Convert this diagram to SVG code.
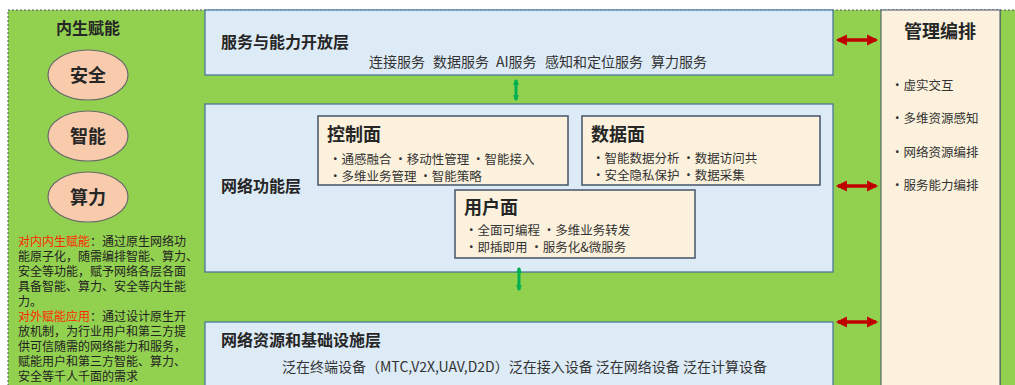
<svg xmlns="http://www.w3.org/2000/svg" width="1015" height="385" viewBox="0 0 1015 385">
<defs>
<style>
text{font-family:"Noto Sans CJK SC","Liberation Sans",sans-serif;fill:#262626}
.layer{fill:#DDEBF7;stroke:#41719C;stroke-width:1.2}
.plane{fill:#FBF1DC;stroke:#44546A;stroke-width:1.5}
.ell{fill:#F8CBAD;stroke:#6B6B6B;stroke-width:1.2}
.t1{font-size:16px;font-weight:bold}
.t2{font-size:18px;font-weight:bold}
.s{font-size:12.5px;fill:#333}
.sv{font-size:14px;fill:#333}
.l{font-size:12px;fill:#222}
.red{fill:#FF2A00}
.ra{stroke:#C00000;stroke-width:3.5;fill:none}
.ga{stroke:#00B050;stroke-width:3;fill:none}
</style>
<marker id="rh" viewBox="0 0 10 10" refX="8" refY="5" markerWidth="3.4" markerHeight="3.2" orient="auto-start-reverse"><path d="M0,0 L10,5 L0,10 z" fill="#C00000"/></marker>
<marker id="gh" viewBox="0 0 10 10" refX="8" refY="5" markerWidth="2" markerHeight="2" orient="auto-start-reverse"><path d="M0,0 L10,5 L0,10 z" fill="#00B050"/></marker>
</defs>
<rect x="0" y="0" width="1015" height="385" fill="#FFFFFF"/>
<rect x="8" y="10" width="1010" height="380" fill="#92D050" stroke="#44546A" stroke-width="1" stroke-dasharray="2,2"/>
<line x1="1000" y1="10" x2="1000" y2="385" stroke="#44546A" stroke-width="1"/>

<g id="innate">
<text x="88" y="34" class="t1" text-anchor="middle">内生赋能</text>
<ellipse class="ell" cx="88" cy="75" rx="40" ry="25"/>
<text x="88" y="82" class="t2" text-anchor="middle" font-size="20">安全</text>
<ellipse class="ell" cx="88" cy="136" rx="40" ry="25"/>
<text x="88" y="143" class="t2" text-anchor="middle" font-size="20">智能</text>
<ellipse class="ell" cx="88" cy="197" rx="40" ry="25"/>
<text x="88" y="204" class="t2" text-anchor="middle" font-size="20">算力</text>
<text class="l">
<tspan x="18" y="246"><tspan class="red">对内内生赋能</tspan>：通过原生网络功</tspan>
<tspan x="18" y="261">能原子化，随需编排智能、算力、</tspan>
<tspan x="18" y="276">安全等功能，赋予网络各层各面</tspan>
<tspan x="18" y="291">具备智能、算力、安全等内生能</tspan>
<tspan x="18" y="306">力。</tspan>
<tspan x="18" y="321"><tspan class="red">对外赋能应用</tspan>：通过设计原生开</tspan>
<tspan x="18" y="336">放机制，为行业用户和第三方提</tspan>
<tspan x="18" y="351">供可信随需的网络能力和服务，</tspan>
<tspan x="18" y="366">赋能用户和第三方智能、算力、</tspan>
<tspan x="18" y="381">安全等千人千面的需求</tspan>
</text>
</g>

<g id="service-layer">
<rect class="layer" x="205" y="10" width="628" height="65"/>
<text x="221" y="48" class="t1">服务与能力开放层</text>
<text y="67" class="sv"><tspan x="369">连接服务</tspan><tspan x="433">数据服务</tspan><tspan x="496">AI服务</tspan><tspan x="545">感知和定位服务</tspan><tspan x="651">算力服务</tspan></text>
</g>

<g id="function-layer">
<rect class="layer" x="205" y="104" width="628" height="168"/>
<text x="221" y="192" class="t1">网络功能层</text>
</g>

<g id="control-plane">
<rect class="plane" x="318" y="116" width="250" height="69"/>
<text x="327" y="141" class="t2">控制面</text>
<text x="329" y="164" class="s">·通感融合 ·移动性管理 ·智能接入</text>
<text x="329" y="181" class="s">·多维业务管理 ·智能策略</text>
</g>

<g id="data-plane">
<rect class="plane" x="582" y="116" width="238" height="69"/>
<text x="591" y="141" class="t2">数据面</text>
<text x="592" y="163" class="s">·智能数据分析 ·数据访问共</text>
<text x="592" y="180" class="s">·安全隐私保护 ·数据采集</text>
</g>

<g id="user-plane">
<rect class="plane" x="455" y="190" width="240" height="68"/>
<text x="464" y="214" class="t2">用户面</text>
<text x="465" y="235" class="s">·全面可编程 ·多维业务转发</text>
<text x="465" y="252" class="s">·即插即用 ·服务化&amp;微服务</text>
</g>

<g id="infra-layer">
<rect class="layer" x="205" y="322" width="628" height="70"/>
<text x="221" y="346" class="t1">网络资源和基础设施层</text>
<text x="282" y="372" class="sv">泛在终端设备（MTC,V2X,UAV,D2D）泛在接入设备 泛在网络设备 泛在计算设备</text>
</g>

<g id="management">
<rect x="881" y="10" width="119" height="380" fill="#FBF1DC" stroke="#44546A" stroke-width="1"/>
<text x="940" y="38" class="t2" text-anchor="middle">管理编排</text>
<text x="891" y="90" class="s" font-size="13">·虚实交互</text>
<text x="891" y="123" class="s" font-size="13">·多维资源感知</text>
<text x="891" y="157" class="s" font-size="13">·网络资源编排</text>
<text x="891" y="190" class="s" font-size="13">·服务能力编排</text>
</g>

<g id="connectors">
<line class="ra" x1="838" y1="40" x2="876" y2="40" marker-start="url(#rh)" marker-end="url(#rh)"/>
<line class="ra" x1="838" y1="186" x2="876" y2="186" marker-start="url(#rh)" marker-end="url(#rh)"/>
<line class="ra" x1="838" y1="322" x2="876" y2="322" marker-start="url(#rh)" marker-end="url(#rh)"/>
<line class="ga" x1="516" y1="80" x2="516" y2="100" marker-start="url(#gh)" marker-end="url(#gh)"/>
<line class="ga" x1="519" y1="268" x2="519" y2="290" marker-start="url(#gh)" marker-end="url(#gh)"/>
</g>
</svg>
